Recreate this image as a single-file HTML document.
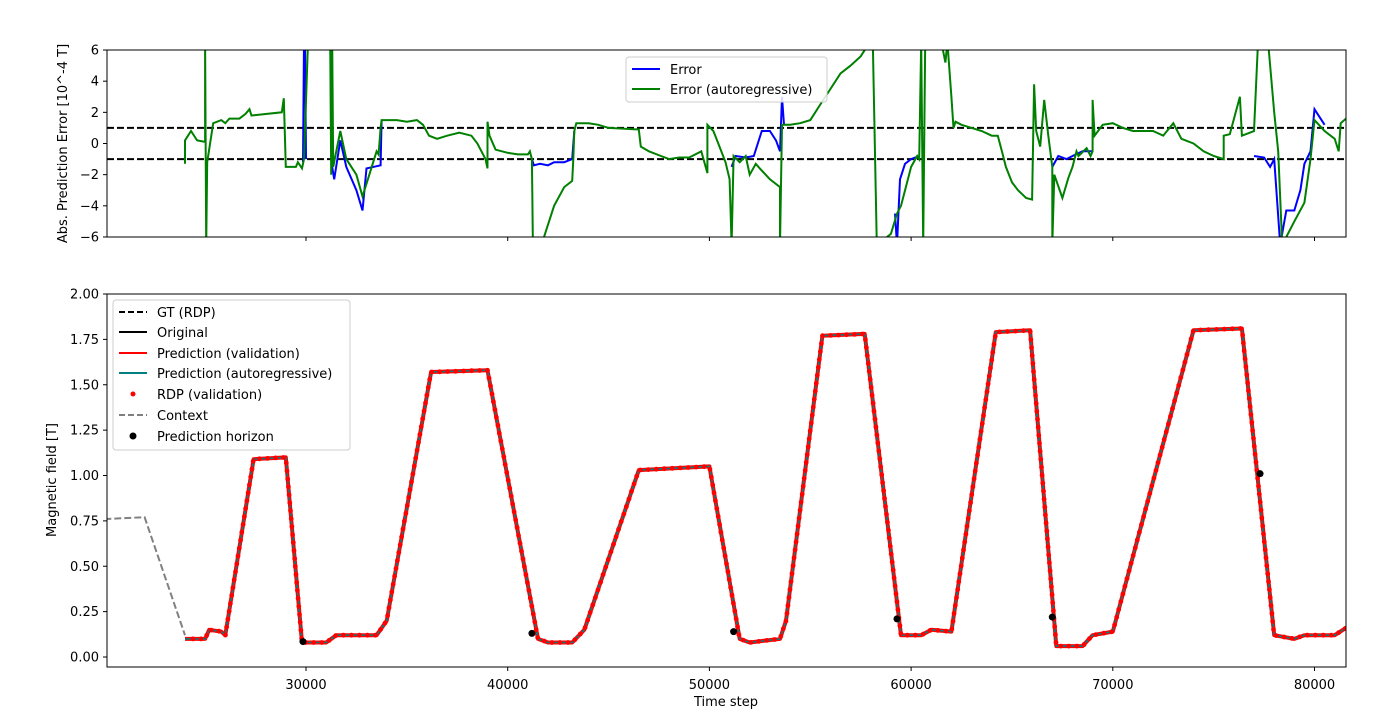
<!DOCTYPE html>
<html><head><meta charset="utf-8"><style>
html,body{margin:0;padding:0;background:#fff;}
svg{display:block;font-family:"DejaVu Sans","Liberation Sans",sans-serif;}
</style></head><body>
<svg id="s" width="1384" height="715" xmlns="http://www.w3.org/2000/svg">
<defs>
<clipPath id="ct"><rect x="107" y="50" width="1239" height="187"/></clipPath>
<clipPath id="cb"><rect x="107" y="294" width="1239" height="373"/></clipPath>
</defs>
<g id="gtop" clip-path="url(#ct)"></g>
<g id="gbot" clip-path="url(#cb)"></g>
<g id="ax" fill="none" stroke="#000" stroke-width="1">
<rect x="107" y="50" width="1239" height="187"/>
<rect x="107" y="294" width="1239" height="373"/>
</g>
<g id="ticks" font-size="13" fill="#000"></g>
<text x="67" y="143.5" font-size="13" text-anchor="middle" transform="rotate(-90 67 143.5)">Abs. Prediction Error [10^-4 T]</text>
<text x="56" y="480" font-size="13" text-anchor="middle" transform="rotate(-90 56 480)">Magnetic field [T]</text>
<text x="726" y="706" font-size="13" text-anchor="middle">Time step</text>
<rect x="626" y="57" width="201" height="45" rx="3" fill="#fff" fill-opacity="0.85" stroke="#ccc"/>
<line x1="632" y1="69" x2="660" y2="69" stroke="#0000ff" stroke-width="2"/>
<text x="670" y="74" font-size="13">Error</text>
<line x1="632" y1="89" x2="660" y2="89" stroke="#008000" stroke-width="2"/>
<text x="670" y="94" font-size="13">Error (autoregressive)</text>
<rect x="113" y="300" width="237" height="150" rx="3" fill="#fff" fill-opacity="0.85" stroke="#ccc"/>
<line x1="119" y1="312" x2="147" y2="312" stroke="#000" stroke-width="2" stroke-dasharray="6,3"/>
<text x="157" y="317" font-size="13">GT (RDP)</text>
<line x1="119" y1="332" x2="147" y2="332" stroke="#000" stroke-width="2"/>
<text x="157" y="337" font-size="13">Original</text>
<line x1="119" y1="353" x2="147" y2="353" stroke="#ff0000" stroke-width="2"/>
<text x="157" y="358" font-size="13">Prediction (validation)</text>
<line x1="119" y1="373" x2="147" y2="373" stroke="#008080" stroke-width="2"/>
<text x="157" y="378" font-size="13">Prediction (autoregressive)</text>
<circle cx="133" cy="394" r="2.5" fill="#ff0000"/>
<text x="157" y="399" font-size="13">RDP (validation)</text>
<line x1="119" y1="415" x2="147" y2="415" stroke="#808080" stroke-width="2" stroke-dasharray="6,3"/>
<text x="157" y="420" font-size="13">Context</text>
<circle cx="133" cy="436" r="3.5" fill="#000"/>
<text x="157" y="441" font-size="13">Prediction horizon</text>
</svg>
<script>
(function(){
var NS="http://www.w3.org/2000/svg";
function X(t){return 306+(t-30000)*0.02017;}
function YT(e){return 143.5-e*15.58;}
function YB(v){return 657-v*181.5;}
function el(p,tag,a){var e=document.createElementNS(NS,tag);for(var k in a)e.setAttribute(k,a[k]);p.appendChild(e);return e;}
function poly(p,pts,fy,a){a.points=pts.map(function(q){return X(q[0]).toFixed(1)+","+fy(q[1]).toFixed(1)}).join(" ");a.fill="none";return el(p,"polyline",a);}
var gt=document.getElementById("gtop"),gb=document.getElementById("gbot"),tk=document.getElementById("ticks");
[1,-1].forEach(function(v){el(gt,"line",{x1:107,x2:1346,y1:YT(v),y2:YT(v),stroke:"#000","stroke-width":2,"stroke-dasharray":"7,3"});});
var G=[[24000,-1.3],[24000,0.2],[24300,0.8],[24600,0.2],[25000,0.1],[25000,6.5],[25050,-6.5],[25100,-1.2],[25400,1.3],[25800,1.5],[26000,1.3],[26200,1.6],[26700,1.6],[27000,1.9],[27200,2.2],[27300,1.8],[28800,2.0],[28900,2.9],[29000,-1.5],[29500,-1.5],[29600,-1.2],[29800,-1.6],[29900,-1.0],[30100,6.5],[31200,6.5],[31250,-2.0],[31300,6.5],[31350,-1.5],[31700,0.8],[32000,-1.0],[32500,-2.0],[32800,-3.4],[33500,-0.5],[33600,-0.7],[33700,1.0],[33750,1.5],[34500,1.5],[35000,1.4],[35500,1.5],[35800,1.2],[36100,0.5],[36500,0.3],[37000,0.5],[37600,0.7],[38200,0.5],[38500,0.0],[38900,-1.0],[39000,-1.6],[39000,1.4],[39100,0.5],[39400,-0.4],[40000,-0.6],[40500,-0.7],[41000,-0.7],[41100,-0.5],[41200,-1.0],[41250,-6.5],[41800,-6],[42300,-4],[42800,-2.8],[43200,-2.4],[43250,-1.0],[43300,0.8],[43400,1.3],[44000,1.3],[44500,1.2],[45000,1.0],[46500,0.9],[46600,-0.2],[47000,-0.5],[47600,-0.8],[48000,-1.0],[48500,-0.9],[49000,-0.9],[49600,-0.5],[49900,-1.9],[49900,1.2],[50200,0.8],[50500,-0.2],[50800,-1.2],[51000,-2.3],[51100,-6.5],[51200,-0.8],[51500,-1.2],[51800,-0.8],[52000,-2.0],[52300,-1.3],[52500,-1.6],[53000,-2.3],[53500,-2.8],[53500,-6.5],[53600,1.2],[54000,1.2],[54500,1.3],[55000,1.5],[55500,2.5],[56000,3.5],[56500,4.5],[57000,5.0],[57500,5.6],[57800,6.2],[58100,6.5],[58300,-6.5],[58800,-6],[59000,-5.8],[59300,-4.5],[59500,-4],[59800,-2.5],[60000,-1.5],[60300,-0.8],[60400,-1.0],[60500,6.5],[60600,-6.5],[60700,6.5],[61500,6.5],[61700,5.2],[61800,6.5],[62000,3],[62100,1.0],[62200,1.4],[62500,1.2],[63000,1.0],[63500,0.8],[64000,0.5],[64300,0.5],[64500,-0.5],[64700,-1.5],[65000,-2.5],[65300,-3],[65700,-3.5],[66000,-3.6],[66100,3.8],[66200,0.8],[66400,-0.2],[66600,2.8],[66800,0.5],[67000,-1.5],[67000,-6.5],[67100,-2],[67500,-3.5],[67800,-2.2],[68000,-1.5],[68200,-0.5],[68300,-0.8],[68700,-0.3],[68900,-0.8],[69000,-0.5],[69000,2.8],[69100,0.5],[69500,1.2],[70000,1.3],[70500,1.0],[71000,0.8],[72000,0.8],[72500,0.5],[73000,1.3],[73400,0.3],[74000,0],[74500,-0.5],[75000,-0.8],[75500,-1.0],[75500,0.5],[75800,0.6],[76300,3.0],[76400,0.5],[76600,0.6],[77000,0.8],[77200,6.5],[77700,6.5],[78000,2],[78200,-0.5],[78400,-6.5],[78600,-6],[79000,-5],[79500,-3.8],[79800,-1],[80000,1.5],[80500,0.8],[81000,0.3],[81200,-0.5],[81300,1.3],[81560,1.6]];
var B=[
[[29850,-1.2],[29900,6.5],[29950,6.5],[30000,-1.0]],
[[31300,-1.5],[31400,-2.3],[31700,0.2],[32000,-1.5],[32500,-3],[32800,-4.3],[33000,-1.6],[33700,-1.4],[33750,1.5]],
[[41200,-1.0],[41300,-1.4],[41600,-1.3],[42000,-1.4],[42300,-1.2],[42800,-1.2],[43200,-1.0],[43300,0.8]],
[[51100,-1.5],[51300,-0.8],[51800,-0.9],[52200,-0.8],[52600,0.8],[53000,0.8],[53300,0.2],[53500,-0.5],[53600,3],[53700,1.2]],
[[59200,-4.5],[59300,-6.5],[59450,-2.3],[59700,-1.3],[60000,-1.0],[60400,-0.8]],
[[67000,-1.5],[67300,-0.8],[67700,-1.0],[68000,-0.8],[68500,-0.5],[69000,-0.5]],
[[77000,-0.8],[77500,-0.9],[77800,-1.5],[78000,-1.0],[78300,-6.5],[78600,-4.3],[79000,-4.3],[79300,-3],[79500,-1.3],[79800,-0.5],[80000,2.2],[80500,1.2]]];
B.forEach(function(s){poly(gt,s,YT,{stroke:"#0000ff","stroke-width":2});});
poly(gt,G,YT,{stroke:"#008000","stroke-width":2});
var P=[[24000,0.1],[25000,0.1],[25200,0.15],[25800,0.14],[26000,0.12],[27400,1.09],[29000,1.1],[29800,0.08],[31000,0.08],[31500,0.12],[33500,0.12],[34000,0.2],[36200,1.57],[39000,1.58],[41500,0.1],[42000,0.08],[43200,0.08],[43800,0.15],[46500,1.03],[50000,1.05],[51500,0.1],[52000,0.08],[53500,0.1],[53800,0.2],[55600,1.77],[57700,1.78],[59500,0.12],[60500,0.12],[61000,0.15],[62000,0.14],[64200,1.79],[65900,1.8],[67200,0.06],[68500,0.06],[69000,0.12],[70000,0.14],[74000,1.8],[76400,1.81],[78000,0.12],[79000,0.1],[79500,0.12],[81000,0.12],[81700,0.17]];
poly(gb,[[20000,0.76],[22000,0.77],[24000,0.12]],YB,{stroke:"#808080","stroke-width":2,"stroke-dasharray":"7,3"});
poly(gb,P,YB,{stroke:"#ff0000","stroke-width":4,"stroke-linejoin":"round"});
poly(gb,P,YB,{stroke:"#008080","stroke-width":1.6,"stroke-linejoin":"round"});
var pts=P.map(function(q){return [X(q[0]),YB(q[1])]});
var acc=0,step=8;
for(var i=1;i<pts.length;i++){var a=pts[i-1],b=pts[i],dx=b[0]-a[0],dy=b[1]-a[1],L=Math.sqrt(dx*dx+dy*dy);
 if(L===0)continue;
 var d=step-acc;while(d<=L){el(gb,"circle",{cx:(a[0]+dx*d/L).toFixed(1),cy:(a[1]+dy*d/L).toFixed(1),r:2.4,fill:"#ff0000"});d+=step;}acc=(acc+L)%step;}
[[29850,0.085],[41200,0.13],[51200,0.14],[59300,0.21],[67000,0.22],[77300,1.01]].forEach(function(q){el(gb,"circle",{cx:X(q[0]),cy:YB(q[1]),r:3.5,fill:"#000"});});
for(var t=30000;t<=80000;t+=10000){var x=X(t);
 el(tk,"line",{x1:x,x2:x,y1:237,y2:241,stroke:"#000"});
 el(tk,"line",{x1:x,x2:x,y1:667,y2:671,stroke:"#000"});
 var tx=el(tk,"text",{x:x,y:689,"text-anchor":"middle"});tx.textContent=String(t);}
for(var v=-6;v<=6;v+=2){var y=YT(v);el(tk,"line",{x1:103,x2:107,y1:y,y2:y,stroke:"#000"});
 var tx2=el(tk,"text",{x:99,y:y+4.5,"text-anchor":"end"});tx2.textContent=(v<0?"\u2212"+(-v):String(v));}
for(var k=0;k<=8;k++){var vv=k*0.25,yy=YB(vv);el(tk,"line",{x1:103,x2:107,y1:yy,y2:yy,stroke:"#000"});
 var tx3=el(tk,"text",{x:99,y:yy+4.5,"text-anchor":"end"});tx3.textContent=vv.toFixed(2);}
})();
</script>
</body></html>
